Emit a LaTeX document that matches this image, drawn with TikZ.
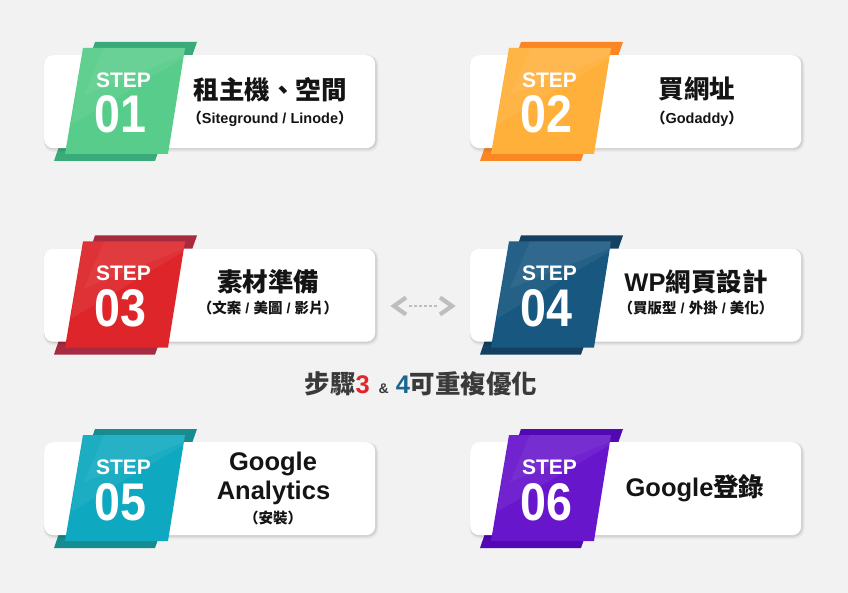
\documentclass[tikz,border=0pt]{standalone}
\usepackage{fontspec}
\setmainfont{Liberation Sans}
\newfontfamily\cjk{Noto Sans CJK TC}
\usetikzlibrary{calc}
\definecolor{bg}{HTML}{F2F2F2}
\definecolor{titlec}{HTML}{141414}
\definecolor{midc}{HTML}{3A3A3A}
\definecolor{arrowc}{HTML}{BEBEBE}
\definecolor{redc}{HTML}{E0262A}
\definecolor{bluec}{HTML}{1A6690}
\definecolor{gF}{HTML}{58CC8A}\definecolor{gB}{HTML}{3AAA78}
\definecolor{oF}{HTML}{FFB03B}\definecolor{oB}{HTML}{FA8723}
\definecolor{rF}{HTML}{DE262A}\definecolor{rB}{HTML}{A82A40}
\definecolor{bF}{HTML}{185880}\definecolor{bB}{HTML}{144062}
\definecolor{cF}{HTML}{0EA8C0}\definecolor{cB}{HTML}{168C91}
\definecolor{pF}{HTML}{6816CC}\definecolor{pB}{HTML}{5208B2}
\newcommand{\cj}[1]{{\cjk\bfseries #1}}
\tikzset{
  card/.style={fill=white, rounded corners=9pt, minimum width=331pt, minimum height=93pt, inner sep=0pt, anchor=north west},
  steplbl/.style={text=white, font=\fontsize{21}{21}\selectfont\bfseries, inner sep=0pt, anchor=base},
  numlbl/.style={text=white, font=\fontsize{53}{53}\selectfont\bfseries, inner sep=0pt, anchor=base},
  ttl/.style={text=titlec, font=\fontsize{25.5}{25.5}\selectfont\bfseries, inner sep=0pt, anchor=base},
  subtxt/.style={text=titlec, font=\fontsize{14.5}{14.5}\selectfont\bfseries, inner sep=0pt, anchor=base},
  midtxt/.style={text=midc, font=\fontsize{25.5}{25.5}\selectfont\bfseries, inner sep=0pt, anchor=base},
  chev/.style={draw=arrowc, line width=4.2pt, line join=miter},
  dashline/.style={draw=arrowc, line width=2pt, dash pattern=on 2.5pt off 2.5pt}
}
\newcommand{\stepcard}[6]{%
  \begin{scope}[shift={(#2,#3)}]
    \fill[#5] (51,-13) -- (153,-13) -- (111,106) -- (10,106) -- cycle;
    \fill[black,opacity=0.035,rounded corners=10pt] (-0.5,0) rectangle (334.5,97);
    \fill[black,opacity=0.05,rounded corners=10pt] (0,0.5) rectangle (333.5,95.5);
    \fill[black,opacity=0.06,rounded corners=9pt] (0.5,1) rectangle (332.5,94.5);
    \node[card] (card#1) at (0,0) {};
    \fill[#4] (39,-7) -- (141,-7) -- (124,99) -- (21,99) -- cycle;
    \fill[white,opacity=0.06] (39,-7) -- (141,-7) -- (139.5,3) -- (27,70) -- cycle;
    \fill[white,opacity=0.05] (60,-7) -- (141,-7) -- (140,0) -- (40,40) -- cycle;
    \node[steplbl] (step#1) at (79.5,32.5) {STEP};
    \node[numlbl] (num#1) at (76.5,78) {\scalebox{0.88}[1]{#6}};
  \end{scope}}
\begin{document}
\begin{tikzpicture}[x=1pt,y=-1pt]
  \fill[bg] (0,0) rectangle (848,593);
  \useasboundingbox (0,0) rectangle (848,593);
  \stepcard{1}{44}{55}{gF}{gB}{01}
  \stepcard{2}{470}{55}{oF}{oB}{02}
  \stepcard{3}{44}{248.5}{rF}{rB}{03}
  \stepcard{4}{470}{248.5}{bF}{bB}{04}
  \stepcard{5}{44}{442}{cF}{cB}{05}
  \stepcard{6}{470}{442}{pF}{pB}{06}
  % texts
  \node[ttl] (title1) at (270,99.5) {\cj{租主機、空間}};
  \node[subtxt] (sub1) at (270,124) {\cj{（}Siteground / Linode\cj{）}};
  \node[ttl] (title2) at (697,99) {\cj{買網址}};
  \node[subtxt] (sub2) at (697,124) {\cj{（}Godaddy\cj{）}};
  \node[ttl] (title3) at (268,292) {\cj{素材準備}};
  \node[subtxt] (sub3) at (268,314) {\cj{（文案} / \cj{美圖} / \cj{影片）}};
  \node[ttl] (title4) at (696,291.5) {WP\cj{網頁設計}};
  \node[subtxt] (sub4) at (696,313.5) {\cj{（買版型} / \cj{外掛} / \cj{美化）}};
  \node[ttl] (title5a) at (273,470.7) {Google};
  \node[ttl] (title5b) at (273.5,499) {Analytics};
  \node[subtxt] (sub5) at (273,523.5) {\cj{（安裝）}};
  \node[ttl] (title6) at (695,496) {Google\cj{登錄}};
  % middle arrow
  \coordinate (aL) at (394,306);
  \coordinate (aR) at (452,306);
  \draw[chev] ($(aL)+(12,-8.5)$) -- (aL) -- ($(aL)+(12,8.5)$);
  \draw[chev] ($(aR)+(-12,-8.5)$) -- (aR) -- ($(aR)+(-12,8.5)$);
  \draw[dashline] ($(aL)+(15,0)$) -- ($(aR)+(-15,0)$);
  % note
  \node[midtxt] (note) at (421,393) {\cj{步驟}\textcolor{redc}{3}\hspace{9pt}{\fontsize{14}{14}\selectfont\&}\hspace{7pt}\textcolor{bluec}{4}\cj{可重複優化}};
\end{tikzpicture}
\end{document}
